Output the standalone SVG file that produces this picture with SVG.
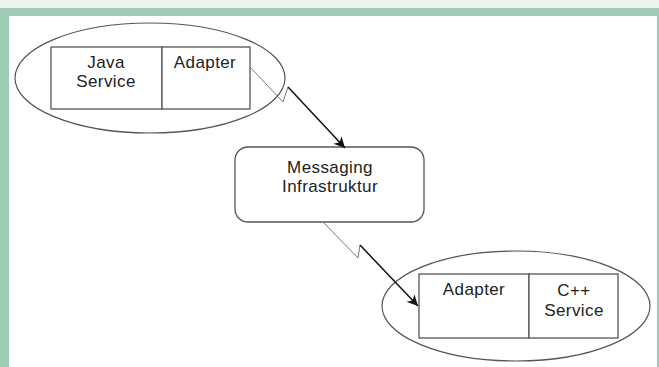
<svg xmlns="http://www.w3.org/2000/svg" width="659" height="367" viewBox="0 0 659 367">
<style>
.box{fill:#fff;stroke:#555;stroke-width:1.3}
.ell{fill:none;stroke:#555;stroke-width:1.2}
.t{font-family:"Liberation Sans",Arial,sans-serif;font-size:17px;letter-spacing:0.4px;fill:#222;text-anchor:middle}
.thin{fill:none;stroke:#777;stroke-width:1}
.thick{fill:none;stroke:#111;stroke-width:1.5}
</style>
<defs>
<marker id="ah" viewBox="0 0 10 10" refX="10" refY="5" markerWidth="12" markerHeight="11" markerUnits="userSpaceOnUse" orient="auto">
<path d="M0,0 L10,5 L0,10 L3,5 Z" fill="#111"/>
</marker>
</defs>
<rect x="0" y="0" width="659" height="367" fill="#fff"/>
<rect x="0" y="0" width="659" height="8" fill="#eef3f0"/>
<rect x="0" y="8" width="659" height="8" fill="#9fcab5"/>
<rect x="0" y="8" width="9" height="359" fill="#9fcab5"/>
<rect x="657" y="16" width="2" height="351" fill="#9fcab5"/>
<g id="java-node">
<ellipse class="ell" cx="150" cy="78" rx="135" ry="55"/>
<rect class="box" x="51" y="47" width="111" height="62"/>
<text class="t" x="106" y="68">Java</text>
<text class="t" x="106" y="87">Service</text>
<rect class="box" x="162" y="47" width="88" height="62"/>
<text class="t" x="205" y="68">Adapter</text>
</g>
<g id="messaging-node">
<rect class="box" x="235" y="147" width="189" height="75" rx="13"/>
<text class="t" x="330" y="173">Messaging</text>
<text class="t" x="330" y="192">Infrastruktur</text>
</g>
<g id="cpp-node">
<ellipse class="ell" cx="516" cy="306" rx="134" ry="55"/>
<rect class="box" x="419" y="274" width="110" height="64"/>
<text class="t" x="474" y="295">Adapter</text>
<rect class="box" x="529" y="274" width="89" height="64"/>
<text class="t" x="574" y="296">C++</text>
<text class="t" x="574" y="316">Service</text>
</g>
<g id="connectors">
<polyline class="thin" points="250,67 283,102 288,87"/>
<polyline class="thick" points="288,87 345,148" marker-end="url(#ah)"/>
<polyline class="thin" points="323,222 358,258 360,245"/>
<polyline class="thick" points="360,245 418,306" marker-end="url(#ah)"/>
</g>
</svg>
